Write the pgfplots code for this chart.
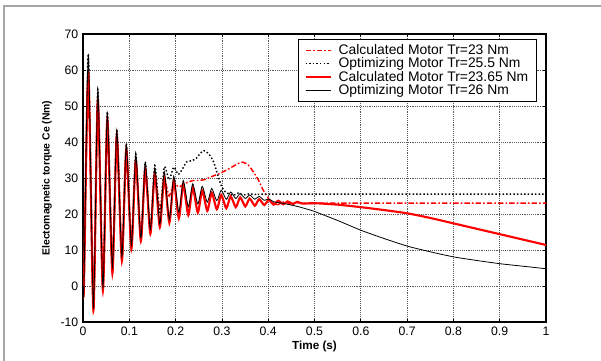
\documentclass[border=0pt]{standalone}
\usepackage{pgfplots}
\pgfplotsset{compat=1.18}
\usepackage{fontspec}
\setmainfont{Liberation Sans}
\begin{document}
\begin{tikzpicture}
\path[use as bounding box] (0pt,0pt) rectangle (450.75pt,270.75pt);
\draw[gray!70, line width=1.3pt] (3pt,-5pt) -- (3pt,266.25pt) -- (460pt,266.25pt);
\begin{axis}[
  at={(62.25pt,29.25pt)}, anchor=south west,
  width=347.25pt, height=216pt, scale only axis,
  xmin=0, xmax=1, ymin=-10, ymax=70,
  xtick={0,0.1,...,1}, ytick={-10,0,...,70},
  xticklabels={0,0.1,0.2,0.3,0.4,0.5,0.6,0.7,0.8,0.9,1},
  tick align=inside, major tick length=2.5pt,
  tick style={black, line width=0.6pt},
  axis line style={black, line width=0.8pt},
  grid=major,
  grid style={densely dotted, gray!70!black, line width=0.6pt},
  tick label style={font=\fontsize{9.2}{10}\selectfont},
  /pgf/number format/assume math mode=true,
  xlabel={Time (s)},
  ylabel={Electomagnetic torque Ce (Nm)},
  xlabel style={font=\bfseries\fontsize{8.8}{9}\selectfont, at={(axis description cs:0.5,-0.0833)}, anchor=center},
  ylabel style={font=\bfseries\fontsize{7.8}{9}\selectfont, at={(axis description cs:-0.0778,0.5)}, anchor=center},
  legend cell align=left,
  legend style={at={(axis description cs:0.4644,0.9826)}, anchor=north west,
    draw=black, line width=0.8pt, fill=white, font=\fontsize{10.4}{11}\selectfont,
    row sep=-2.9pt, inner xsep=4.5pt, inner ysep=1.5pt},
  legend image code/.code={\draw[#1] (0pt,0pt) -- (18.75pt,0pt); \path (22pt,0pt);},
]
% Calculated Motor Tr=23 Nm (red dash-dot)
\addplot[red, line width=1.1pt, smooth, tension=0.4, dash pattern=on 4pt off 1.6pt on 1.2pt off 1.6pt] coordinates {
(0,0)(0.002,0)(0.0115,58.5)(0.0225,-6.5)(0.032,51.2)(0.043,-1.0)(0.0525,45.8)(0.0635,3.9)(0.073,41.3)(0.084,7.2)(0.0935,37.5)(0.1045,10.5)(0.114,34.6)(0.125,12.8)(0.1345,32.4)(0.1455,15.2)(0.155,31.0)(0.166,21.0)(0.1755,29.5)(0.186,25.0)(0.196,28.5)(0.207,27.5)(0.22,28.5)(0.238,29.3)(0.25,29.3)(0.264,29.6)(0.278,30.4)(0.296,31.3)(0.317,32.7)(0.335,34.0)(0.345,34.4)(0.357,33.6)(0.368,31.7)(0.379,29.4)(0.389,26.7)(0.40,24.4)(0.407,23.4)(0.42,22.6)(0.435,23.4)(0.45,22.7)(0.465,23.2)(0.48,22.9)(0.5,23.0)(0.6,23.0)(0.8,23.0)(1.0,23.0)
};
\addlegendentry{Calculated Motor Tr=23 Nm}
% Optimizing Motor Tr=25.5 Nm (black dotted)
\addplot[black, line width=1.1pt, smooth, tension=0.4, dash pattern=on 1.1pt off 1.6pt] coordinates {
(0,0)(0.002,0)(0.0115,64.5)(0.0225,-6.2)(0.032,54.6)(0.043,-0.6)(0.0525,48.4)(0.0635,5.0)(0.073,43.6)(0.084,8.0)(0.0935,39.6)(0.1045,11.1)(0.114,36.7)(0.125,13.2)(0.1345,34.5)(0.1455,15.5)(0.155,33.5)(0.166,20.0)(0.1755,33.0)(0.186,29.5)(0.196,33.0)(0.206,31.0)(0.217,33.0)(0.224,34.5)(0.235,34.8)(0.245,35.5)(0.253,36.8)(0.261,37.6)(0.271,36.8)(0.282,34.5)(0.292,30.4)(0.2995,27.6)(0.307,26.2)(0.315,25.6)(0.325,25.2)(0.335,25.8)(0.345,25.3)(0.36,25.6)(0.375,25.4)(0.39,25.5)(0.6,25.5)(1.0,25.5)
};
\addlegendentry{Optimizing Motor Tr=25.5 Nm}
% Calculated Motor Tr=23.65 Nm (red solid)
\addplot[red, line width=1.6pt, smooth, tension=0.4] coordinates {
(0,0)(0.002,0)(0.0115,59.0)(0.0225,-6.8)(0.032,51.7)(0.043,-1.2)(0.0525,46.2)(0.0635,3.6)(0.073,41.7)(0.084,7.0)(0.0935,37.8)(0.1045,10.3)(0.114,34.8)(0.125,12.5)(0.1345,32.6)(0.1455,14.5)(0.155,31.2)(0.166,16.3)(0.1755,30.2)(0.1865,17.6)(0.196,29.2)(0.207,18.8)(0.2165,28.2)(0.2275,19.7)(0.237,27.3)(0.248,20.4)(0.2575,26.5)(0.2685,20.9)(0.278,25.9)(0.289,21.3)(0.2985,25.3)(0.3095,21.6)(0.319,24.9)(0.33,21.9)(0.3395,24.6)(0.3505,22.1)(0.36,24.3)(0.371,22.3)(0.3805,24.1)(0.3915,22.5)(0.401,23.9)(0.412,22.6)(0.4215,23.7)(0.4325,22.7)(0.442,23.5)(0.453,22.8)(0.4625,23.4)(0.4735,22.9)(0.5,23.0)(0.55,22.6)(0.6,21.9)(0.65,21.1)(0.7,20.2)(0.75,18.9)(0.8,17.4)(0.85,15.9)(0.9,14.4)(0.95,12.9)(1.0,11.4)
};
\addlegendentry{Calculated Motor Tr=23.65 Nm}
% Optimizing Motor Tr=26 Nm (black thin)
\addplot[black, line width=0.6pt, smooth, tension=0.4] coordinates {
(0,0)(0.002,0)(0.0115,64.0)(0.0225,-6.0)(0.032,54.2)(0.043,-0.4)(0.0525,48.0)(0.0635,5.2)(0.073,43.3)(0.084,8.2)(0.0935,39.3)(0.1045,11.3)(0.114,36.4)(0.125,13.4)(0.1345,34.2)(0.1455,15.7)(0.155,32.8)(0.166,17.2)(0.1755,31.8)(0.1865,18.5)(0.196,30.5)(0.207,20.5)(0.2165,29.3)(0.2275,22.0)(0.237,28.4)(0.248,22.8)(0.2575,27.7)(0.2685,23.3)(0.278,27.1)(0.289,23.7)(0.2985,26.6)(0.3095,24.1)(0.319,26.1)(0.33,24.3)(0.3395,25.7)(0.3505,24.3)(0.36,25.3)(0.371,24.1)(0.3805,24.9)(0.3915,23.8)(0.401,24.2)(0.412,23.4)(0.43,23.0)(0.46,22.2)(0.48,21.5)(0.5,20.7)(0.55,18.2)(0.6,15.5)(0.65,13.2)(0.7,11.1)(0.75,9.5)(0.8,8.1)(0.85,7.1)(0.9,6.2)(0.95,5.5)(1.0,4.8)
};
\addlegendentry{Optimizing Motor Tr=26 Nm}
\end{axis}
\end{tikzpicture}
\end{document}
